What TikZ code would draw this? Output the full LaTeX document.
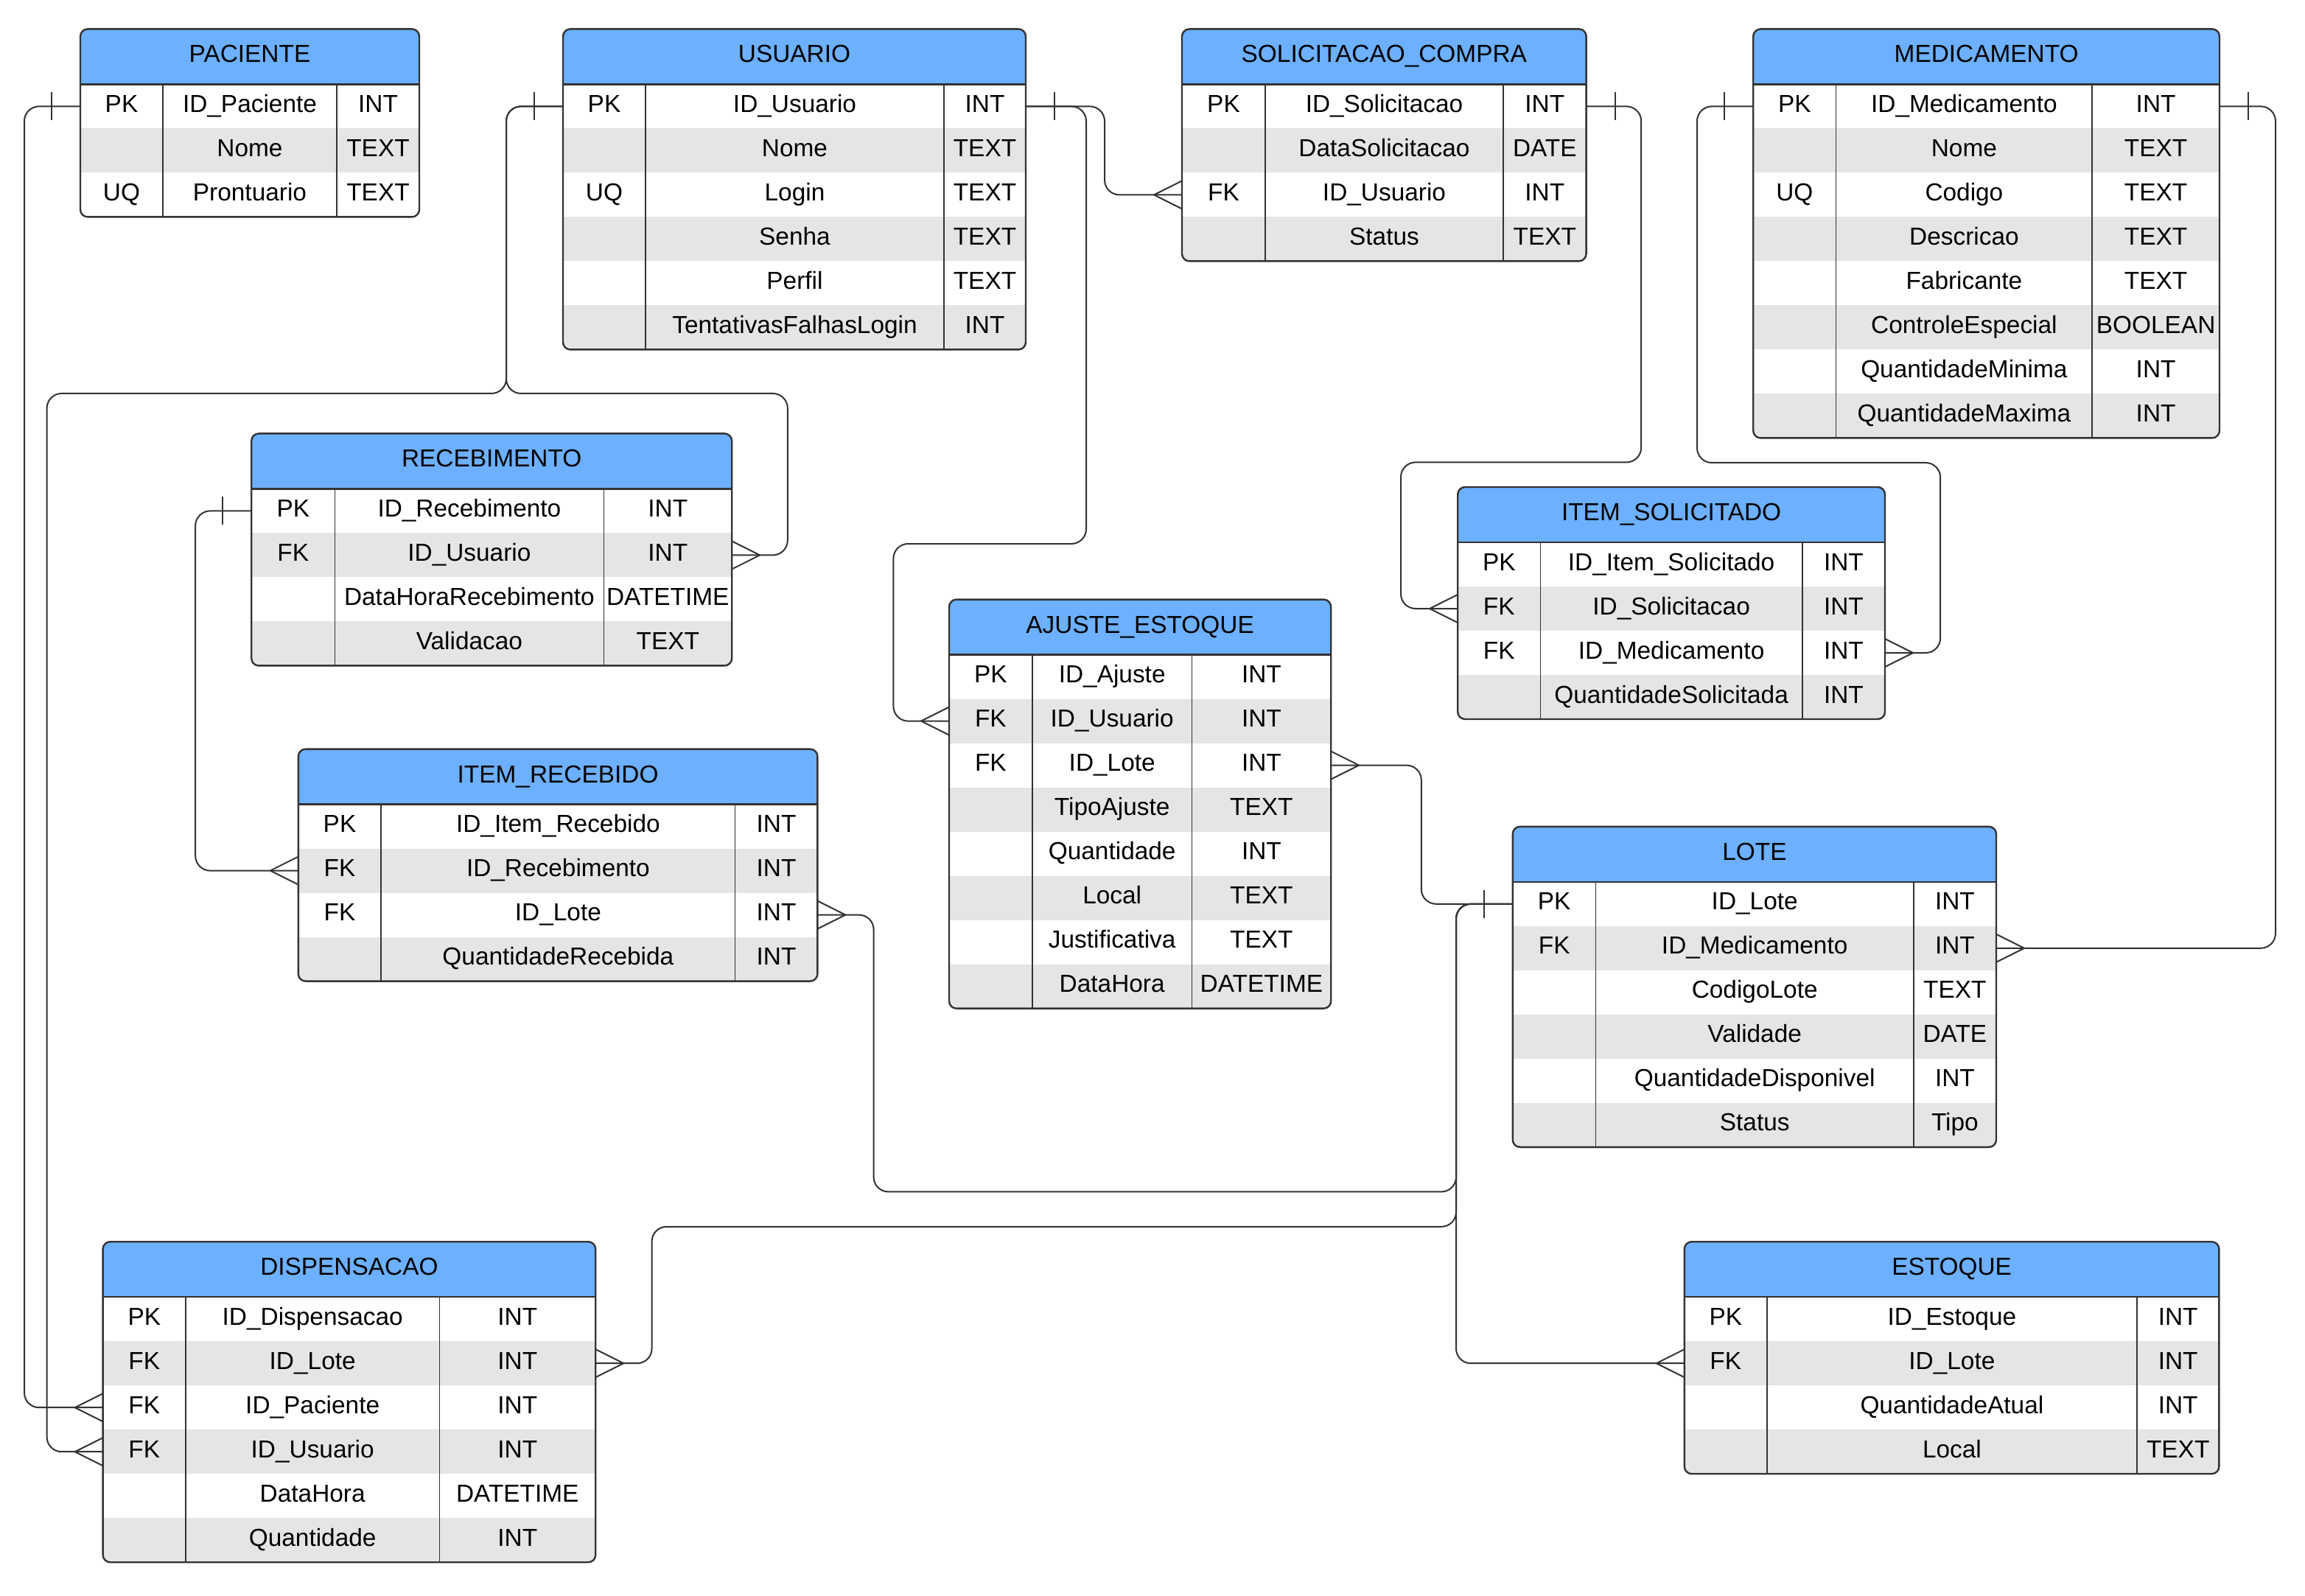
\documentclass[tikz,border=0pt]{standalone}
\usepackage{fontspec}
\setmainfont{Liberation Sans}
\usetikzlibrary{calc}
\definecolor{hdrblue}{HTML}{6CB0FF}
\definecolor{rowgray}{HTML}{E5E5E5}
\definecolor{linegray}{HTML}{333333}
\tikzset{
  tblborder/.style={draw=linegray, line width=1.2pt},
  colline/.style={draw=linegray, line width=0.8pt},
  conn/.style={draw=linegray, line width=1pt, rounded corners=10pt},
  crowline/.style={draw=linegray, line width=1pt},
  celltext/.style={inner sep=0pt, outer sep=0pt, font=\fontsize{16.7}{20}\selectfont, text height=12pt, text depth=4pt, align=center},
  rowbox/.style={inner sep=0pt, outer sep=0pt, draw=none, fill=none},
}
\newcommand{\ertable}[8]{%
  \pgfmathsetmacro\ETxa{#2}%
  \pgfmathsetmacro\ETxb{#3}%
  \pgfmathsetmacro\ETxc{#4}%
  \pgfmathsetmacro\ETxd{#5}%
  \pgfmathsetmacro\ETtop{#6}%
  \pgfmathsetmacro\EThb{\ETtop+37.5}%
  \gdef\ETn{0}%
  \foreach \cK/\cF/\cT [count=\ci] in {#8} {\xdef\ETn{\ci}}%
  \pgfmathsetmacro\ETbot{\EThb+30*\ETn}%
  \pgfmathsetmacro\ETw{\ETxd-\ETxa}%
  \begin{scope}
    \clip[rounded corners=5pt] (\ETxa,\ETtop) rectangle (\ETxd,\ETbot);
    \fill[hdrblue] (\ETxa,\ETtop) rectangle (\ETxd,\EThb);
    \fill[white] (\ETxa,\EThb) rectangle (\ETxd,\ETbot);
    \foreach \cK/\cF/\cT [count=\ci] in {#8} {%
      \ifodd\ci\relax\else
        \fill[rowgray] (\ETxa,{\EThb+30*(\ci-1)}) rectangle (\ETxd,{\EThb+30*\ci});
      \fi
    }
  \end{scope}
  \draw[colline] (\ETxb,\EThb) -- (\ETxb,\ETbot) (\ETxc,\EThb) -- (\ETxc,\ETbot);
  \draw[tblborder] (\ETxa,\EThb) -- (\ETxd,\EThb);
  \draw[tblborder, rounded corners=5pt] (\ETxa,\ETtop) rectangle (\ETxd,\ETbot);
  \node[celltext] (#1) at ({(\ETxa+\ETxd)/2},{\ETtop+18.75}) {#7};
  \foreach \cK/\cF/\cT [count=\ci] in {#8} {%
    \pgfmathsetmacro\ETyc{\EThb+30*\ci-15}
    \node[rowbox, minimum width=\ETw pt, minimum height=30pt] (#1-\ci) at ({(\ETxa+\ETxd)/2},\ETyc) {};
    \node[celltext] (#1-\ci-k) at ({(\ETxa+\ETxb)/2},\ETyc) {\cK};
    \node[celltext] (#1-\ci-f) at ({(\ETxb+\ETxc)/2},\ETyc) {\cF};
    \node[celltext] (#1-\ci-t) at ({(\ETxc+\ETxd)/2},\ETyc) {\cT};
  }
}
\newcommand{\manyW}[1]{\draw[crowline] ([xshift=-19pt]#1.west) -- ([yshift=9.5pt]#1.west) ([xshift=-19pt]#1.west) -- ([yshift=-9.5pt]#1.west);}
\newcommand{\manyE}[1]{\draw[crowline] ([xshift=19pt]#1.east) -- ([yshift=9.5pt]#1.east) ([xshift=19pt]#1.east) -- ([yshift=-9.5pt]#1.east);}
\newcommand{\oneW}[1]{\draw[crowline] ([xshift=-19.5pt,yshift=9.5pt]#1.west) -- ([xshift=-19.5pt,yshift=-9.5pt]#1.west);}
\newcommand{\oneE}[1]{\draw[crowline] ([xshift=19.5pt,yshift=9.5pt]#1.east) -- ([xshift=19.5pt,yshift=-9.5pt]#1.east);}
\begin{document}
\begin{tikzpicture}[x=1pt,y=-1pt]
\fill[white] (0,0) rectangle (1564,1083);
\useasboundingbox (0,0) rectangle (1564,1083);

\ertable{pac}{54.5}{110.5}{228.5}{284.5}{19.7}{PACIENTE}{PK/ID\_Paciente/INT, /Nome/TEXT, UQ/Prontuario/TEXT}
\ertable{usu}{382}{438}{640.5}{696}{19.7}{USUARIO}{PK/ID\_Usuario/INT, /Nome/TEXT, UQ/Login/TEXT, /Senha/TEXT, /Perfil/TEXT, /TentativasFalhasLogin/INT}
\ertable{sol}{802}{858.5}{1020}{1076.3}{19.7}{SOLICITACAO\_COMPRA}{PK/ID\_Solicitacao/INT, /DataSolicitacao/DATE, FK/ID\_Usuario/INT, /Status/TEXT}
\ertable{med}{1189.6}{1245.8}{1419.6}{1506}{19.7}{MEDICAMENTO}{PK/ID\_Medicamento/INT, /Nome/TEXT, UQ/Codigo/TEXT, /Descricao/TEXT, /Fabricante/TEXT, /ControleEspecial/BOOLEAN, /QuantidadeMinima/INT, /QuantidadeMaxima/INT}
\ertable{rec}{170.6}{227.2}{409.7}{496.6}{294.2}{RECEBIMENTO}{PK/ID\_Recebimento/INT, FK/ID\_Usuario/INT, /DataHoraRecebimento/DATETIME, /Validacao/TEXT}
\ertable{isol}{989.1}{1045.2}{1222.9}{1279}{330.5}{ITEM\_SOLICITADO}{PK/ID\_Item\_Solicitado/INT, FK/ID\_Solicitacao/INT, FK/ID\_Medicamento/INT, /QuantidadeSolicitada/INT}
\ertable{aju}{644}{700.4}{808.8}{903.1}{406.8}{AJUSTE\_ESTOQUE}{PK/ID\_Ajuste/INT, FK/ID\_Usuario/INT, FK/ID\_Lote/INT, /TipoAjuste/TEXT, /Quantidade/INT, /Local/TEXT, /Justificativa/TEXT, /DataHora/DATETIME}
\ertable{irec}{202.4}{258.6}{498.8}{554.7}{508.3}{ITEM\_RECEBIDO}{PK/ID\_Item\_Recebido/INT, FK/ID\_Recebimento/INT, FK/ID\_Lote/INT, /QuantidadeRecebida/INT}
\ertable{lote}{1026.4}{1082.8}{1298.4}{1354.5}{560.9}{LOTE}{PK/ID\_Lote/INT, FK/ID\_Medicamento/INT, /CodigoLote/TEXT, /Validade/DATE, /QuantidadeDisponivel/INT, /Status/Tipo}
\ertable{disp}{69.8}{126}{298.2}{404.1}{842.6}{DISPENSACAO}{PK/ID\_Dispensacao/INT, FK/ID\_Lote/INT, FK/ID\_Paciente/INT, FK/ID\_Usuario/INT, /DataHora/DATETIME, /Quantidade/INT}
\ertable{est}{1142.9}{1198.9}{1450}{1505.7}{842.6}{ESTOQUE}{PK/ID\_Estoque/INT, FK/ID\_Lote/INT, /QuantidadeAtual/INT, /Local/TEXT}

% connectors
\draw[conn] (pac-1.west) -- ++(-38,0) |- (disp-3.west);
\draw[conn] (usu-1.west) -| (343.5,267) -- (31.8,267) |- (disp-4.west);
\draw[conn] (usu-1.west) -| (343.5,267) -- (534.4,267) |- (rec-2.east);
\draw[conn] (usu-1.east) -- ++(53.5,0) |- (sol-3.west);
\draw[conn] (usu-1.east) -| (737,369) -- (606.2,369) |- (aju-2.west);
\draw[conn] (sol-1.east) -| (1113.6,313.7) -- (950.5,313.7) |- (isol-2.west);
\draw[conn] (med-1.west) -| (1151.5,314) -- (1316.6,314) |- (isol-3.east);
\draw[conn] (med-1.east) -- ++(38,0) |- (lote-2.east);
\draw[conn] (rec-1.west) -- ++(-38,0) |- (irec-2.west);
\draw[conn] (lote-1.west) -- ++(-62,0) |- (aju-3.east);
\draw[conn] (lote-1.west) -| (988,808.7) -- (592.8,808.7) |- (irec-3.east);
\draw[conn] (lote-1.west) -| (988,832.4) -- (442.3,832.4) |- (disp-2.east);
\draw[conn] (lote-1.west) -- ++(-38.4,0) |- (est-2.west);

% cardinality marks
\oneW{pac-1}\manyW{disp-3}
\oneW{usu-1}\manyW{disp-4}\manyE{rec-2}
\oneE{usu-1}\manyW{sol-3}\manyW{aju-2}
\oneE{sol-1}\manyW{isol-2}
\oneW{med-1}\manyE{isol-3}
\oneE{med-1}\manyE{lote-2}
\oneW{rec-1}\manyW{irec-2}
\oneW{lote-1}\manyE{aju-3}
\manyE{irec-3}
\manyE{disp-2}
\manyW{est-2}
\end{tikzpicture}
\end{document}
